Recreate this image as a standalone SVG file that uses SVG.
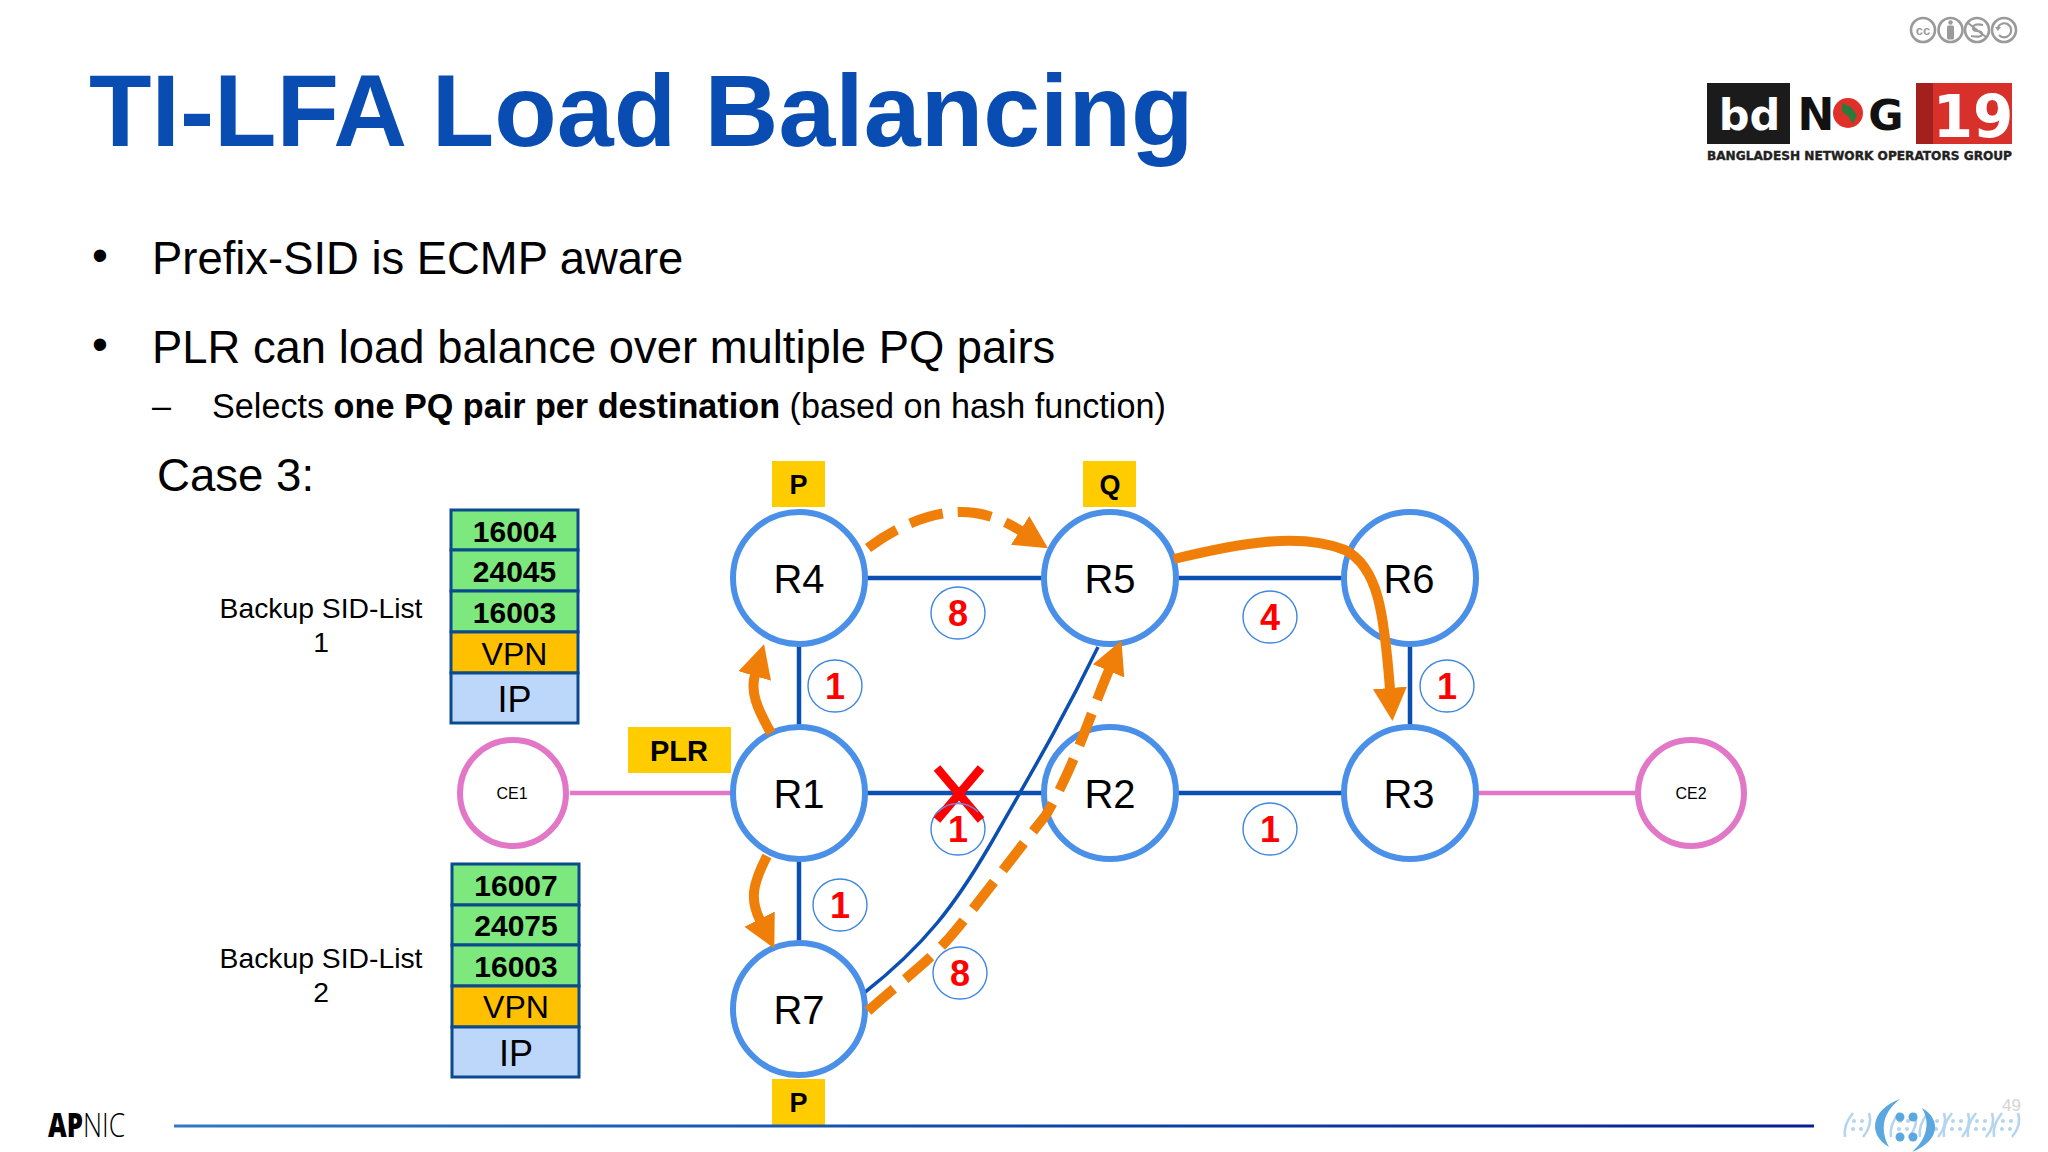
<svg xmlns="http://www.w3.org/2000/svg" width="2048" height="1152" viewBox="0 0 2048 1152">
<style>
text{font-family:"Liberation Sans",Arial,sans-serif;fill:#000}
.bul{font-size:45.400px}
.sub{font-size:34.200px}
.rt{fill:#fff;stroke:#4a90e8;stroke-width:6}
.rl{font-size:40px;text-anchor:middle}
.ce{fill:#fff;stroke:#e277c8;stroke-width:6}
.cl{font-size:16px;text-anchor:middle}
.pink{stroke:#e277c8;stroke-width:4.5;fill:none}
.link{stroke:#0b4fb0;stroke-width:4.5;fill:none}
.wc{fill:#fff;stroke:#3f86e0;stroke-width:1.4}
.wl{font-size:36px;font-weight:700;fill:#f00;text-anchor:middle}
.tag{fill:#ffcc00}
.tl{font-size:29px;font-weight:700;text-anchor:middle}
.or{stroke:#f07f09;stroke-width:10;fill:none}
.dash{stroke-dasharray:34 15}
.box{stroke:#0b4a8c;stroke-width:3}
.g{fill:#7de87d}.v{fill:#ffc000}.i{fill:#bdd7fb}
.sid{font-size:30px;font-weight:700;text-anchor:middle}
.vt{font-size:32px;text-anchor:middle}
.it{font-size:36px;text-anchor:middle}
.bk{font-size:28.300px;text-anchor:middle}
.cc{fill:#fff;stroke:#9a9a9a;stroke-width:2.6}
.cs{stroke:#9a9a9a;stroke-width:2.2;fill:none}
.lg{fill:#5ba8e0}
.pl{fill:#b5d5ee}
.pp{stroke:#b5d5ee;stroke-width:2.6;fill:none}
.dv{font-family:"DejaVu Sans",sans-serif;font-weight:700;text-anchor:middle}
.ap{font-family:"Open Sans",sans-serif;font-size:33px}
</style>
<defs>
<marker id="ah" markerUnits="userSpaceOnUse" markerWidth="36" markerHeight="36" refX="1" refY="18" orient="auto"><path d="M0 1 L33 18 L0 35 Z" fill="#f07f09"/></marker>
<linearGradient id="rule" x1="0" x2="1" y1="0" y2="0"><stop offset="0" stop-color="#2f79c8"/><stop offset="0.5" stop-color="#0d4aa8"/><stop offset="1" stop-color="#0a1e90"/></linearGradient>
<g id="pd"><path d="M-4 -12 Q-14 0 -12 12" class="pp"/><path d="M12 -12 Q16 0 6 12" class="pp"/><circle cx="-3" cy="-4" r="2" class="pl"/><circle cx="5" cy="-4" r="2" class="pl"/><circle cx="-4" cy="4" r="2" class="pl"/><circle cx="4" cy="4" r="2" class="pl"/></g>
</defs>
<rect width="2048" height="1152" fill="#fff"/>

<text x="89" y="146" font-size="102.300" font-weight="700" style="fill:#0a4db2">TI-LFA Load Balancing</text>
<text x="92" y="271" class="bul">•</text>
<text x="152" y="274" class="bul">Prefix-SID is ECMP aware</text>
<text x="92" y="360" class="bul">•</text>
<text x="152" y="363" class="bul">PLR can load balance over multiple PQ pairs</text>
<text x="152" y="418" class="sub">–</text>
<text x="212" y="418" class="sub">Selects <tspan font-weight="700">one PQ pair per destination</tspan> (based on hash function)</text>
<text x="157" y="491" font-size="45.600">Case 3:</text>

<g id="cc-badges">
<circle cx="1923" cy="30" r="12" class="cc"/><text x="1923" y="35" font-size="13" font-weight="700" text-anchor="middle" style="fill:#9a9a9a">cc</text>
<circle cx="1950.5" cy="30" r="12" class="cc"/><circle cx="1950.5" cy="22.5" r="2.2" fill="#9a9a9a"/><rect x="1947" y="25.5" width="7" height="14" rx="1.5" fill="#9a9a9a"/>
<circle cx="1977" cy="30" r="12" class="cc"/><path d="M1968 23 L1986 37 M1983 25 Q1973 23 1973 28 Q1973 31 1977 31 Q1982 31 1982 34 Q1982 38 1971 36" class="cs"/>
<circle cx="2004" cy="30" r="12" class="cc"/><path d="M1998 27 A7 7 0 1 1 1999 35" class="cs"/><path d="M1995 27 L2001 27 L1998 31 Z" fill="#9a9a9a"/>
</g>

<g id="bdnog-logo">
<rect x="1707" y="83" width="83" height="61" fill="#1b1b1b"/>
<rect x="1790" y="83" width="126" height="61" fill="#fff"/>
<rect x="1916" y="83" width="17" height="61" fill="#a3201c"/>
<rect x="1933" y="83" width="79" height="61" fill="#d8302a"/>
<text x="1749.5" y="130" font-size="43" class="dv" style="fill:#fff">bd</text>
<text x="1816" y="130" font-size="44" class="dv" style="fill:#111">N</text>
<circle cx="1848" cy="113" r="15" fill="#e0302a"/>
<path d="M1842 103 L1851 107 L1857 115 L1853 124 L1848 116 L1842 112 Z" fill="#2c7a3a"/>
<text x="1886" y="130" font-size="43" class="dv" style="fill:#111">G</text>
<text x="1973" y="137" font-size="58" class="dv" style="fill:#fff">19</text>
<text x="1707" y="160" font-size="12.5" textLength="305" lengthAdjust="spacingAndGlyphs" class="dv" style="fill:#222;stroke:#222;stroke-width:.4;text-anchor:start">BANGLADESH NETWORK OPERATORS GROUP</text>
</g>

<g id="connectors">
<path class="pink" d="M570 793H733"/>
<path class="pink" d="M1477 793H1637"/>
<path class="link" d="M865 578H1044"/>
<path class="link" d="M1176 578H1344"/>
<path class="link" d="M865 793H1044"/>
<path class="link" d="M1176 793H1344"/>
<path class="link" d="M799 644V727"/>
<path class="link" d="M799 859V943"/>
<path class="link" d="M1410 644V727"/>
<path class="link" style="stroke-width:3.5" d="M864 993C925 945 955 905 990 845C1030 775 1060 725 1098 647"/>
</g>

<g id="r4"><circle cx="799" cy="578" r="66" class="rt"/><text x="799" y="593" class="rl">R4</text></g>
<g id="r5"><circle cx="1110" cy="578" r="66" class="rt"/><text x="1110" y="593" class="rl">R5</text></g>
<g id="r6"><circle cx="1410" cy="578" r="66" class="rt"/><text x="1409" y="593" class="rl">R6</text></g>
<g id="r1"><circle cx="799" cy="793" r="66" class="rt"/><text x="799" y="808" class="rl">R1</text></g>
<g id="r2"><circle cx="1110" cy="793" r="66" class="rt"/><text x="1110" y="808" class="rl">R2</text></g>
<g id="r3"><circle cx="1410" cy="793" r="66" class="rt"/><text x="1409" y="808" class="rl">R3</text></g>
<g id="r7"><circle cx="799" cy="1009" r="66" class="rt"/><text x="799" y="1024" class="rl">R7</text></g>
<g id="ce1"><circle cx="513" cy="793" r="53" class="ce"/><text x="512" y="799" class="cl">CE1</text></g>
<g id="ce2"><circle cx="1691" cy="793" r="53" class="ce"/><text x="1691" y="799" class="cl">CE2</text></g>

<g id="weights">
<g><ellipse cx="958" cy="613" rx="27" ry="26" class="wc"/><text x="958" y="626" class="wl">8</text></g>
<g><ellipse cx="1270" cy="617" rx="27" ry="26" class="wc"/><text x="1270" y="630" class="wl">4</text></g>
<g><ellipse cx="835" cy="686" rx="27" ry="26" class="wc"/><text x="835" y="699" class="wl">1</text></g>
<g><ellipse cx="1447" cy="686" rx="27" ry="26" class="wc"/><text x="1447" y="699" class="wl">1</text></g>
<g><ellipse cx="958" cy="829" rx="27" ry="26" class="wc"/><text x="958" y="842" class="wl">1</text></g>
<g><ellipse cx="1270" cy="829" rx="27" ry="26" class="wc"/><text x="1270" y="842" class="wl">1</text></g>
<g><ellipse cx="840" cy="905" rx="27" ry="26" class="wc"/><text x="840" y="918" class="wl">1</text></g>
<g><ellipse cx="960" cy="973" rx="27" ry="26" class="wc"/><text x="960" y="986" class="wl">8</text></g>
</g>

<g id="failure"><path d="M937 768L981 820M981 768L937 820" stroke="#f00" stroke-width="8.5" fill="none"/><path d="M938 812A27 26 0 0 1 978 812" fill="none" stroke="#7a7fd8" stroke-width="1.4"/></g>

<g id="paths">
<path class="or dash" marker-end="url(#ah)" d="M868 1011C905 978 925 965 950 937C975 908 1010 860 1046 815C1075 765 1090 715 1109 670"/>
<path class="or dash" marker-end="url(#ah)" d="M868 548C905 520 945 508 975 513C995 516 1010 524 1021 531"/>
<path class="or" marker-end="url(#ah)" d="M1174 559C1240 543 1300 532 1345 550C1378 567 1384 612 1390 689"/>
<path class="or" marker-end="url(#ah)" d="M771 733C757 708 750 692 755 675"/>
<path class="or" marker-end="url(#ah)" d="M767 856C752 885 750 900 760 920"/>
</g>

<g id="tag-plr"><rect x="628" y="727" width="103" height="46" class="tag"/><text x="679" y="761" class="tl">PLR</text></g>
<g id="tag-p1"><rect x="772" y="461" width="53" height="46" class="tag"/><text x="798.500" y="494" class="tl" style="font-size:27px">P</text></g>
<g id="tag-q"><rect x="1083" y="461" width="53" height="46" class="tag"/><text x="1110" y="494" class="tl" style="font-size:27px">Q</text></g>
<g id="tag-p2"><rect x="772" y="1079" width="53" height="46" class="tag"/><text x="798.500" y="1112" class="tl" style="font-size:27px">P</text></g>

<g id="stack1">
<rect x="451" y="510" width="127" height="40" class="box g"/><text x="514.500" y="542" class="sid">16004</text>
<rect x="451" y="550" width="127" height="41" class="box g"/><text x="514.500" y="582" class="sid">24045</text>
<rect x="451" y="591" width="127" height="41" class="box g"/><text x="514.500" y="623" class="sid">16003</text>
<rect x="451" y="632" width="127" height="41" class="box v"/><text x="514.500" y="665" class="vt">VPN</text>
<rect x="451" y="673" width="127" height="50" class="box i"/><text x="514.500" y="712" class="it">IP</text>
</g>
<g id="stack2">
<rect x="452" y="864" width="127" height="41" class="box g"/><text x="516" y="896" class="sid">16007</text>
<rect x="452" y="905" width="127" height="40" class="box g"/><text x="516" y="936" class="sid">24075</text>
<rect x="452" y="945" width="127" height="41" class="box g"/><text x="516" y="977" class="sid">16003</text>
<rect x="452" y="986" width="127" height="41" class="box v"/><text x="516" y="1018" class="vt">VPN</text>
<rect x="452" y="1027" width="127" height="50" class="box i"/><text x="516" y="1066" class="it">IP</text>
</g>
<g id="bk1"><text x="321" y="618" class="bk">Backup SID-List</text><text x="321" y="652" class="bk">1</text></g>
<g id="bk2"><text x="321" y="968" class="bk">Backup SID-List</text><text x="321" y="1002" class="bk">2</text></g>

<rect x="174" y="1124.500" width="1640" height="3" fill="url(#rule)"/>
<g id="apnic">
<text class="ap" font-weight="800" transform="translate(48 1137) scale(.78 1)">AP</text>
<text class="ap" font-weight="300" transform="translate(83 1137) scale(.8 1)">NIC</text>
</g>

<g id="footer-logo">
<use href="#pd" x="1857" y="1125"/><use href="#pd" x="1903" y="1125"/><use href="#pd" x="1932" y="1125"/><use href="#pd" x="1956" y="1125"/><use href="#pd" x="1980" y="1125"/><use href="#pd" x="2006" y="1125"/>
<text x="2002" y="1111" font-size="17" style="fill:#d4d4d4">49</text>
<path d="M1900 1099C1870 1110 1868 1135 1889 1147C1880 1130 1882 1113 1900 1099Z" class="lg"/>
<path d="M1922 1108C1940 1118 1942 1140 1912 1152C1928 1138 1930 1122 1922 1108Z" class="lg"/>
<circle cx="1900" cy="1117" r="4.5" class="lg"/><circle cx="1913" cy="1117" r="4.5" class="lg"/><circle cx="1900" cy="1137" r="4.5" class="lg"/><circle cx="1913" cy="1137" r="4.5" class="lg"/>
</g>
</svg>
